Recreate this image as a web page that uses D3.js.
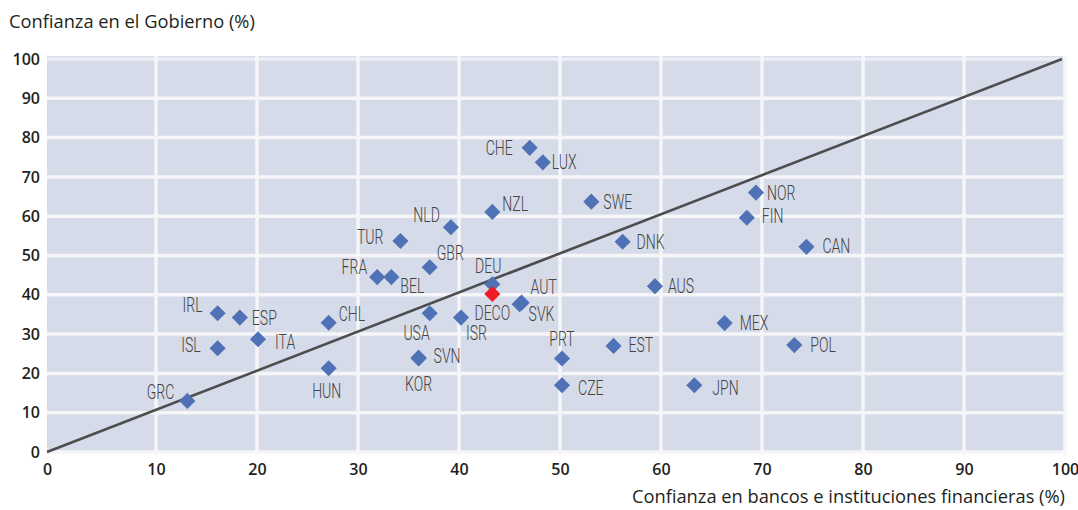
<!DOCTYPE html>
<html><head><meta charset="utf-8">
<script src="https://cdn.jsdelivr.net/npm/d3@7"></script>
<style>
html,body{margin:0;padding:0;background:#fff;}
svg{display:block;}
</style></head>
<body>
<svg id="chart" width="1078" height="510"></svg>
<script>
// ---- Data ----
const countries = ["GRC","IRL","ISL","ESP","ITA","CHL","HUN","FRA","BEL","TUR","SVN","KOR","USA","GBR","NLD","ISR","DEU","NZL","AUT","SVK","CHE","LUX","PRT","CZE","SWE","EST","DNK","AUS","JPN","MEX","FIN","NOR","POL","CAN","DECO"];
const bancos    = [13.1,16.1,16.1,18.3,20.1,27.1,27.1,31.9,33.3,34.2,36.0,36.0,37.1,37.1,39.2,40.2,43.3,43.3,46.2,46.0,47.0,48.3,50.2,50.2,53.1,55.3,56.2,59.4,63.3,66.3,68.5,69.4,73.2,74.4,43.3];
const gobierno  = [13.0,35.3,26.4,34.2,28.7,32.9,21.3,44.5,44.5,53.7,24.0,23.8,35.3,47.0,57.2,34.2,42.7,61.1,38.0,37.6,77.4,73.7,23.8,17.0,63.7,27.0,53.5,42.2,17.0,32.8,59.6,66.0,27.2,52.2,40.2];
const highlight = "DECO";
const xTicks = [0,10,20,30,40,50,60,70,80,90,100];
const yTicks = [0,10,20,30,40,50,60,70,80,90,100];
const yTitle = "Confianza en el Gobierno (%)";
const xTitle = "Confianza en bancos e instituciones financieras (%)";

// ---- Label layout (dx, dy, anchor) ----
const labelPos = {
  GRC:[-13,-9,"end"], IRL:[-15,-8,"end"], ISL:[-17,-3,"end"], ESP:[12,0,"start"],
  ITA:[17,3,"start"], CHL:[10,-9,"start"], HUN:[-2,23,"middle"], FRA:[-10,-10,"end"],
  BEL:[9,9,"start"], TUR:[-17,-4,"end"], SVN:[15,-2,"start"], KOR:[0,26,"middle"],
  USA:[0,20,"end"], GBR:[7,-14,"start"], NLD:[-11,-12,"end"], ISR:[5,15,"start"],
  DEU:[-4,-18,"middle"], NZL:[10,-8,"start"], AUT:[9,-16,"start"], SVK:[9,10,"start"],
  CHE:[-17,0,"end"], LUX:[9,0,"start"], PRT:[0,-19,"middle"], CZE:[16,3,"start"],
  SWE:[12,0,"start"], EST:[15,-1,"start"], DNK:[14,0,"start"], AUS:[13,0,"start"],
  JPN:[18,3,"start"], MEX:[15,0,"start"], FIN:[15,-2,"start"], NOR:[11,0,"start"],
  POL:[16,0,"start"], CAN:[16,-1,"start"], DECO:[0,19,"middle"]
};

const svg = d3.select("#chart");
const x = d3.scaleLinear().domain([0,10,100]).range([47,156,1065]);
const y = d3.scaleLinear().domain([0,100]).range([452,59]);

// background
svg.append("rect")
  .attr("x", x(0)).attr("y", y(100)-3)
  .attr("width", x(100)-x(0)).attr("height", y(0)-y(100)+3)
  .attr("fill", "#d6dbea");

// gridlines
svg.append("g").selectAll("line").data(yTicks).join("line")
  .attr("x1", x(0)).attr("x2", x(100)+2)
  .attr("y1", d=>y(d)).attr("y2", d=>y(d))
  .attr("stroke", d=> d===100 ? "#eceef4" : "#f6f6f8").attr("stroke-width", 3.5);
svg.append("g").selectAll("line").data(xTicks.filter(d=>d>0)).join("line")
  .attr("x1", d=>x(d)).attr("x2", d=>x(d))
  .attr("y1", y(100)-3).attr("y2", y(0)+3)
  .attr("stroke", "#f6f6f8").attr("stroke-width", 3.5);

// axes labels via d3 axes
const xAxis = svg.append("g").attr("transform", `translate(0,${y(0)})`)
  .call(d3.axisBottom(x).tickValues(xTicks).tickSize(0).tickPadding(12).tickFormat(d3.format("d")));
const yAxis = svg.append("g").attr("transform", `translate(${x(0)},0)`)
  .call(d3.axisLeft(y).tickValues(yTicks).tickSize(0).tickPadding(7).tickFormat(d3.format("d")));
[xAxis, yAxis].forEach(a => {
  a.select(".domain").remove();
  a.selectAll("text").attr("font-family","'Open Sans', sans-serif").attr("font-size",16)
    .attr("font-weight",600).attr("fill","#231f20");
});

// diagonal 45° line
svg.append("line")
  .attr("x1", x(0)).attr("y1", y(0)).attr("x2", x(100)-3).attr("y2", y(100))
  .attr("stroke", "#4d4d4d").attr("stroke-width", 2.6);

// points
const pts = countries.map((c,i)=>({c, bx:bancos[i], gy:gobierno[i]}));
const ordered = pts.filter(d=>d.c!==highlight).concat(pts.filter(d=>d.c===highlight));
const diamond = d3.symbol().type(d3.symbolSquare).size(130);
svg.append("g").selectAll("path").data(ordered).join("path")
  .attr("d", diamond)
  .attr("transform", d=>`translate(${x(d.bx)},${y(d.gy)}) rotate(45)`)
  .attr("fill", d=> d.c===highlight ? "#ee1c25" : "#4f71b5");

// labels
const lg = svg.append("g").selectAll("g").data(pts).join("g")
  .attr("transform", d=>{ const p = labelPos[d.c]; return `translate(${x(d.bx)+p[0]},${y(d.gy)+p[1]}) scale(0.72,1)`; });
lg.append("text")
  .attr("text-anchor", d=>labelPos[d.c][2])
  .attr("dy","0.36em")
  .attr("font-family","Roboto, sans-serif").attr("font-weight",300)
  .attr("font-size",19.5).attr("fill","#444")
  .text(d=>d.c);

// titles
svg.append("text").attr("x",9).attr("y",28)
  .attr("font-family","'Open Sans', sans-serif").attr("font-size",18.3).attr("fill","#231f20")
  .text(yTitle);
svg.append("text").attr("x",1065).attr("y",503).attr("text-anchor","end")
  .attr("font-family","'Open Sans', sans-serif").attr("font-size",18.3).attr("fill","#231f20")
  .text(xTitle);
</script>
</body></html>
